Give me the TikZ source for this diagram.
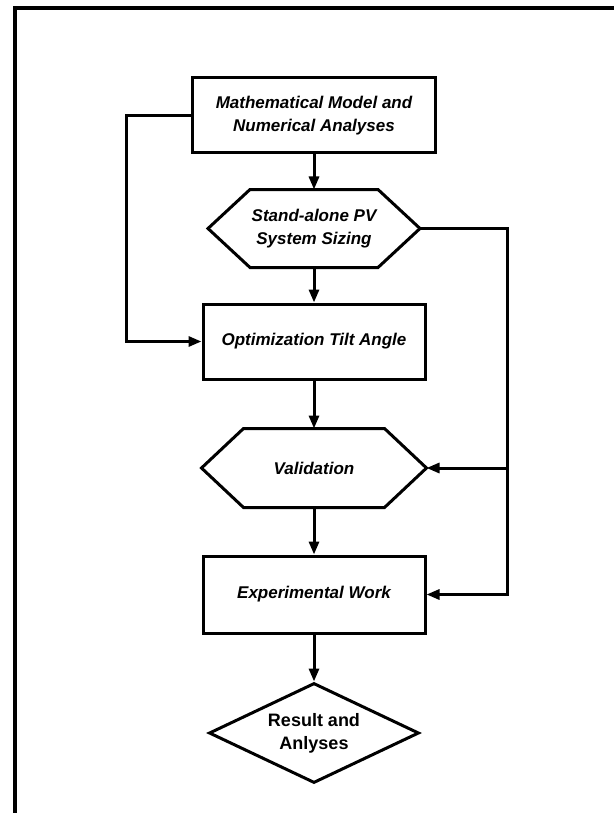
\documentclass[tikz,border=0pt]{standalone}
\usepackage{fontspec}
\setmainfont{Liberation Sans}
\usetikzlibrary{arrows.meta,shapes.geometric}
\newcommand\drawhex[1]{%
	\draw[line width=3pt] (#1.west) -- ([xshift=\hexin pt]#1.north west) -- ([xshift=-\hexin pt]#1.north east)
		-- (#1.east) -- ([xshift=-\hexin pt]#1.south east) -- ([xshift=\hexin pt]#1.south west) -- cycle;}
\begin{document}
\begin{tikzpicture}[x=1pt,y=-1pt,line join=miter,>={Triangle[length=13pt,width=10pt]}]
	\tikzset{box/.style={draw,line width=3pt,minimum height=75pt,inner sep=0pt,align=center,
			font=\fontsize{17}{23}\selectfont\bfseries\itshape},
		hexbox/.style={box,draw=none},
		link/.style={line width=3pt,->}}
	\def \hexin{42}
	\useasboundingbox (0,0) rectangle (614,813);
	\draw[line width=3.5pt] (15,813)--(15,8)--(614,8);
	% blocks
	\node[box,minimum width=243pt] (model) at (314,115.5) {Mathematical Model and\\Numerical Analyses};
	\node[hexbox,minimum width=209pt] (sizing) at (314,228.5) {Stand-alone PV\\System Sizing};
	\node[box,minimum width=222pt] (tilt) at (314,341.5) {Optimization Tilt Angle};
	\node[hexbox,minimum width=222pt,minimum height=76pt] (valid) at (314,468) {Validation};
	\node[box,minimum width=222pt,minimum height=77pt] (expw) at (314,594.5) {Experimental Work};
	\node[box,diamond,aspect=2.1,minimum width=210pt,minimum height=100pt,
		font=\fontsize{18}{23}\selectfont\bfseries] (result) at (314,733) {Result and\\Anlyses};
	\drawhex{sizing}
	\drawhex{valid}
	% links
	\coordinate (lft) at (126,0);
	\coordinate (rgt) at (507,0);
	\draw[link] (model.south) -- (sizing.north);
	\draw[link] (sizing.south) -- (tilt.north);
	\draw[link] (tilt.south) -- (valid.north);
	\draw[link] (valid.south) -- (expw.north);
	\draw[link] (expw.south) -- (result.north);
	\draw[link] (model.west) -- (model.west -| lft) |- (tilt.west);
	\draw[link] (sizing.east) -- (sizing.east -| rgt) |- (expw.east);
	\draw[link] (valid.east -| rgt) -- (valid.east);
\end{tikzpicture}
\end{document}
